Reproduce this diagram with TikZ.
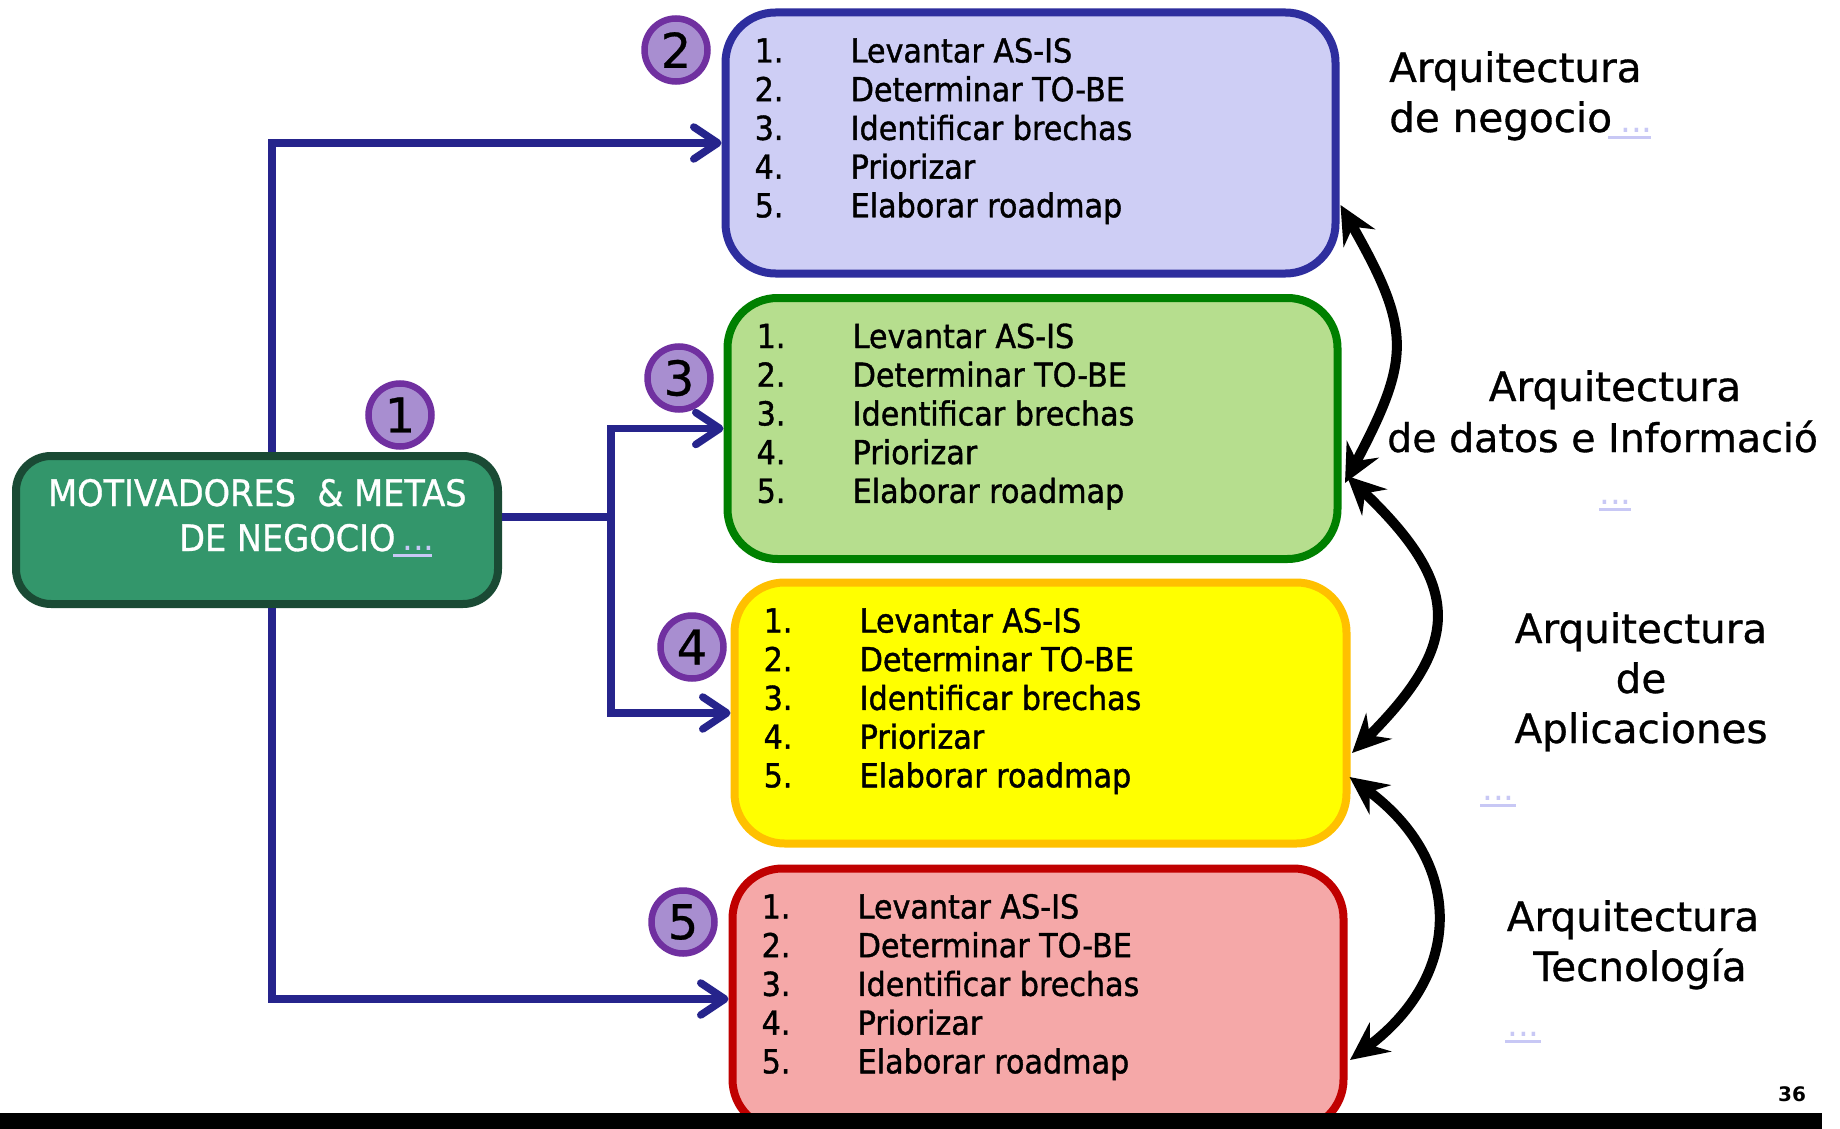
\documentclass[tikz,border=0pt]{standalone}
\usepackage{fontspec}
\setmainfont{DejaVu Sans}
\newfontfamily\boxfont[FakeStretch=0.915,FakeBold=1.2]{DejaVu Sans}
\newfontfamily\headfont[FakeStretch=0.92,FakeBold=0.8]{DejaVu Sans}
\newfontfamily\labfont[FakeBold=0.8]{DejaVu Sans}
\newfontfamily\numfont[FakeBold=0.6]{DejaVu Sans}
\usetikzlibrary{arrows.meta,calc}

\definecolor{navyline}{RGB}{38,36,140}
\definecolor{motfill}{RGB}{51,150,107}
\definecolor{motdraw}{RGB}{26,74,52}
\definecolor{ringpurple}{RGB}{112,48,160}
\definecolor{ringfill}{RGB}{168,142,208}
\definecolor{lavfill}{RGB}{206,206,245}
\definecolor{lavdraw}{RGB}{46,46,158}
\definecolor{grnfill}{RGB}{182,222,142}
\definecolor{grndraw}{RGB}{0,128,0}
\definecolor{yelfill}{RGB}{255,255,0}
\definecolor{yeldraw}{RGB}{255,192,0}
\definecolor{redfill}{RGB}{245,168,168}
\definecolor{reddraw}{RGB}{192,0,0}
\definecolor{linkcol}{RGB}{200,200,245}

% five-step list placed inside a stage box
\newcommand\stagelist[1]{%
  \foreach \txt [count=\i] in {Levantar AS-IS, Determinar TO-BE, Identificar brechas, Priorizar, Elaborar roadmap}{%
    \node[item] (#1n\i) at ($(#1.north west)+(33,{54+38.7*(\i-1)})$) {\i.};
    \node[item] (#1t\i) at ($(#1.north west)+(129,{54+38.7*(\i-1)})$) {\txt};
  }}

% underlined link dots
\newcommand\linkdots[2]{\makebox[0pt][l]{\rule[-6.5pt]{#1}{3pt}}\hspace{#2}...}

\begin{document}
\begin{tikzpicture}[x=1pt,y=-1pt,
  stagebox/.style={rounded corners=50pt, line width=8pt, minimum width=610pt,
    minimum height=261pt, inner sep=0pt},
  item/.style={anchor=base west, inner sep=0pt, font={\boxfont\fontsize{33}{40}\selectfont}},
  numring/.style={circle, draw=ringpurple, fill=ringfill, line width=6.5pt,
    minimum size=63pt, inner sep=0pt, font={\numfont\fontsize{48}{48}\selectfont}},
  feed/.style={draw=navyline, line width=7.5pt,
    -{Straight Barb[length=24pt,width=32pt,round]}},
  link/.style={anchor=base west, inner sep=0pt, text=linkcol,
    font=\fontsize{34}{34}\selectfont},
  lab/.style={inner sep=0pt, font={\labfont\fontsize{40.5}{48}\selectfont}},
  swap/.style={draw=black, line width=10pt,
    {Stealth[length=38pt,width=36pt,inset=13pt]}-{Stealth[length=38pt,width=36pt,inset=13pt]}}
]
\useasboundingbox (0,0) rectangle (1840,1129);
\fill[white] (0,0) rectangle (1840,1129);

% business drivers box
\node[rounded corners=35pt, line width=8pt, draw=motdraw, fill=motfill,
  minimum width=482pt, minimum height=148pt, inner sep=0pt] (mot) at (257,530) {};
\node[anchor=base west, inner sep=0pt, text=white, font={\headfont\fontsize{36.5}{40}\selectfont}]
  (motA) at (48,506) {MOTIVADORES\ \ \& METAS};
\node[anchor=base west, inner sep=0pt, text=white, font={\headfont\fontsize{36.5}{40}\selectfont}]
  (motB) at (179,551) {DE NEGOCIO};
\node[link] (motlink) at (393,550.5) {\linkdots{39pt}{9pt}};

% stage boxes
\node[stagebox, draw=lavdraw, fill=lavfill] (box2) at (1030.5,143) {};
\node[stagebox, draw=grndraw, fill=grnfill] (box3) at (1032.5,428.5) {};
\node[stagebox, draw=yeldraw, fill=yelfill, minimum width=612pt] (box4) at (1040.5,713) {};
\node[stagebox, draw=reddraw, fill=redfill, minimum width=611pt] (box5) at (1038,999) {};

\stagelist{box2}
\stagelist{box3}
\stagelist{box4}
\stagelist{box5}

% numbered markers
\node[numring] (c1) at (400,415) {1};
\node[numring] (c2) at (676,50) {2};
\node[numring] (c3) at (679,378) {3};
\node[numring] (c4) at (692,647) {4};
\node[numring] (c5) at (683,922) {5};

% feeds from the drivers box
\draw[feed] ($(mot.north)+(15,0)$) |- (box2.west);
\draw[feed] ($(mot.south)+(15,0)$) |- (box5.west);
\draw[feed] ($(mot.east)+(0,-13)$) -- ++(109,0) |- (box3.west);
\draw[feed] ($(mot.east)+(0,-13)$) -- ++(109,0) |- (box4.west);

% two-way links between neighbouring layers
\draw[swap] ($(box2.east)+(1,62)$) .. controls +(71,125) and +(66,-125) .. ($(box3.east)+(3.5,54.5)$);
\draw[swap] ($(box3.east)+(5.5,47.5)$) .. controls +(115,110) and +(110,-110) .. ($(box4.east)+(1.5,40)$);
\draw[swap] ($(box4.east)+(-1,64)$) .. controls +(115,85) and +(113,-85) .. ($(box5.east)+(2.5,61)$);

% layer labels
\node[lab, anchor=base west] (l1a) at (1389,82) {Arquitectura};
\node[lab, anchor=base west] (l1b) at (1389,132) {de negocio};
\node[link] (k1) at (1608,133) {\linkdots{43pt}{12pt}};

\node[lab, anchor=base] (l2a) at (1615,401) {Arquitectura};
\node[lab, anchor=base west, font={\labfont\fontsize{39.5}{48}\selectfont}] (l2b) at (1387,452) {de datos e Informació};
\node[link] (k2) at (1599,504.5) {\linkdots{32pt}{0pt}};

\node[lab, anchor=base] (l3a) at (1641,643) {Arquitectura};
\node[lab, anchor=base] (l3b) at (1641,693) {de};
\node[lab, anchor=base] (l3c) at (1641,743) {Aplicaciones};
\node[link] (k3) at (1480,800.5) {\linkdots{36pt}{2pt}};

\node[lab, anchor=base] (l4a) at (1633,931) {Arquitectura};
\node[lab, anchor=base] (l4b) at (1640,981) {Tecnología};
\node[link] (k4) at (1505,1036.5) {\linkdots{36pt}{2pt}};

% footer bar and page number
\fill[black] (0,1113) rectangle (1822,1129);
\node[anchor=base west, inner sep=0pt, font=\bfseries\fontsize{20}{20}\selectfont] (pg) at (1778,1101) {36};
\end{tikzpicture}
\end{document}
